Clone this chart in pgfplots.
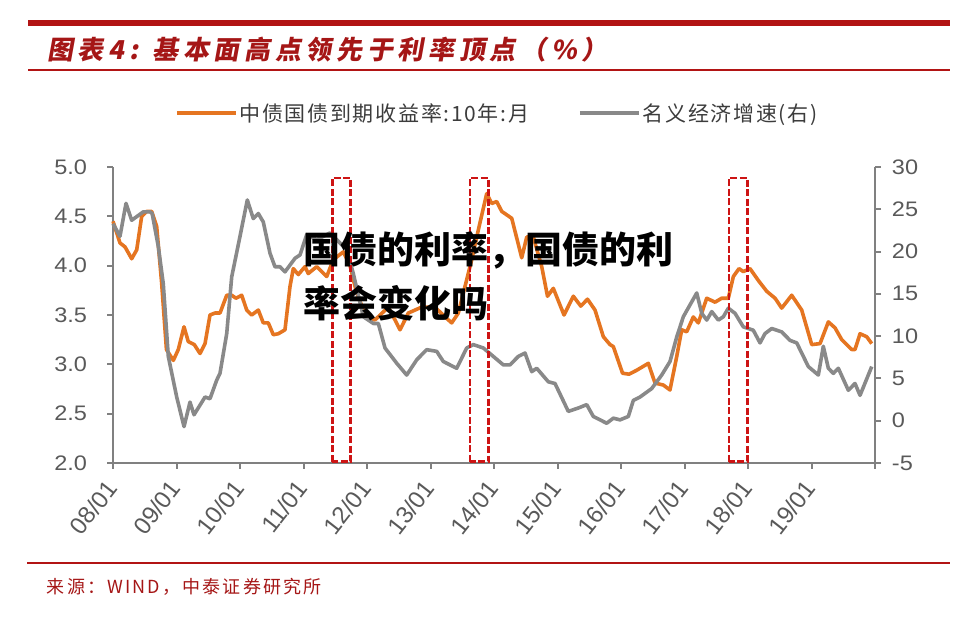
\documentclass[border=0pt]{standalone}
\usepackage{fontspec}
\setmainfont{Liberation Sans}
\newfontfamily\cjk{Noto Sans CJK SC}
\newfontfamily\cjktitle{Noto Sans CJK SC}[FakeSlant=0.18, LetterSpace=18]
\newfontfamily\cjksrc{Noto Sans CJK SC}[LetterSpace=12]
\newfontfamily\cjkleg{Noto Sans CJK SC}[LetterSpace=8]
\usepackage{pgfplots}
\pgfplotsset{compat=1.18}
\usepackage{pgfplotstable}

\definecolor{serorange}{RGB}{229,117,33}
\definecolor{sergray}{RGB}{137,137,137}
\definecolor{axisgray}{RGB}{128,128,128}
\definecolor{labelgray}{RGB}{89,89,89}
\definecolor{legendgray}{RGB}{60,60,60}
\definecolor{titlered}{RGB}{165,22,22}
\definecolor{rulered}{RGB}{178,20,20}
\definecolor{boxred}{RGB}{205,20,20}

\pgfplotstableread{
m v
0 4.45
1.32 4.23
2.27 4.19
3.53 4.07
4.48 4.16
5.42 4.50
6.37 4.55
7.31 4.55
8.25 4.40
9.2 3.82
10.1 3.15
11.4 3.04
12.34 3.15
13.42 3.38
14.23 3.23
15.36 3.20
16.44 3.11
17.39 3.21
18.33 3.50
19.28 3.52
20.22 3.52
21.49 3.70
22.43 3.70
23.24 3.67
24.32 3.70
25.27 3.55
26.21 3.50
27.46 3.55
28.40 3.42
29.35 3.42
30.29 3.30
31.24 3.31
32.50 3.35
33.45 3.79
34.07 3.97
35.02 3.91
36.28 3.99
36.9 3.92
38.50 3.99
40.39 3.89
41.63 4.06
43.52 4.14
44.79 4.00
45.92 3.75
47.30 3.55
47.94 3.48
49.51 3.45
52.03 3.58
53.29 3.45
54.24 3.35
55.81 3.52
58.34 3.58
60.85 3.58
62.74 3.48
64.01 3.42
65.26 3.52
66.52 3.79
67.79 4.06
69.03 4.36
70.62 4.73
71.57 4.63
72.51 4.65
73.46 4.55
75.35 4.48
77.24 4.08
78.18 4.29
79.43 4.29
81.02 3.99
82.11 3.69
83.21 3.77
85.23 3.50
86.99 3.69
88.40 3.59
89.67 3.66
91.09 3.55
92.66 3.28
93.92 3.20
94.55 3.18
96.29 2.91
97.51 2.90
98.97 2.94
101.16 3.01
102.43 2.81
104.00 2.79
105.26 2.74
106.53 3.08
107.47 3.35
108.42 3.33
109.66 3.48
110.61 3.42
112.20 3.67
113.77 3.63
115.03 3.67
116.28 3.67
117.23 3.89
118.30 3.97
119.11 3.94
120.38 3.97
121.95 3.85
123.54 3.74
125.11 3.67
126.37 3.57
128.26 3.70
130.15 3.55
132.04 3.20
133.61 3.21
135.18 3.43
136.44 3.37
137.71 3.25
139.60 3.15
140.22 3.15
141.17 3.31
142.43 3.28
143.38 3.21
}\yielddata

\pgfplotstableread{
m v
0 23.3
1.32 21.8
2.46 25.7
3.53 23.7
5.73 24.7
6.99 24.7
7.4 24.5
8.56 20.6
9.5 16.2
10.45 7.6
12.04 2.8
13.42 -0.7
14.55 2.2
15.31 0.7
17.39 2.8
18.33 2.6
19.6 4.8
20.22 5.6
21.49 10.3
22.43 17.0
24.00 21.8
25.38 26.1
26.51 23.9
27.46 24.5
28.40 23.5
29.67 19.8
30.61 18.2
31.56 18.2
32.50 17.6
34.39 19.2
35.34 19.6
36.61 22.0
38.50 21.4
41.01 22.2
42.28 21.4
44.17 20.2
45.41 17.4
47.30 12.3
49.19 11.5
50.14 11.5
51.40 8.6
53.61 6.8
55.50 5.4
57.39 7.2
59.28 8.4
61.17 8.2
62.42 7.0
64.95 6.2
66.84 8.6
68.09 9.0
69.98 8.6
71.87 7.6
73.76 6.6
75.02 6.6
76.59 7.6
77.86 8.0
79.13 5.8
80.07 6.2
82.27 4.6
83.53 4.4
86.04 1.1
87.93 1.5
89.52 1.9
90.77 0.5
93.30 -0.3
94.55 0.3
95.81 0.1
97.38 0.5
98.33 2.4
99.59 2.8
101.80 3.8
103.69 5.4
105.26 7.0
106.53 9.9
107.78 12.3
110.31 15.1
111.26 12.7
112.20 11.9
113.15 12.9
114.39 11.9
115.34 12.3
116.28 13.3
117.55 12.7
119.11 11.1
121.00 10.7
122.27 9.2
123.21 10.3
124.48 10.9
126.37 10.5
127.94 9.5
129.21 9.2
131.40 6.4
133.29 5.4
134.23 8.8
135.18 6.2
136.13 5.6
137.07 6.2
138.96 3.6
140.22 4.4
141.17 3.0
143.38 6.4
}\gdpdata

\begin{document}
\begin{tikzpicture}[x=1pt,y=1pt]
\path[use as bounding box] (0,0) rectangle (973,617);
% header rules and title
\fill[rulered] (28,591) rectangle (950,597);
\fill[rulered] (28,546) rectangle (950,548);
\node[anchor=west, inner sep=0pt, text=titlered, font=\cjktitle\bfseries\fontsize{26}{28}\selectfont] at (47,567) {图表4: 基本面高点领先于利率顶点（\%）};
% footer
\fill[rulered] (27,53.3) rectangle (950,55.3);
\node[anchor=west, inner sep=0pt, text=titlered, font=\cjksrc\fontsize{18}{20}\selectfont] at (46.7,30.3) {来源：WIND，中泰证券研究所};

\begin{axis}[
  at={(113pt,154pt)}, anchor=south west,
  scale only axis, width=762pt, height=296pt,
  xmin=0, xmax=144, ymin=2, ymax=5,
  axis x line*=bottom, axis y line*=left,
  axis line style={-, draw=axisgray, line width=2.2pt},
  tick style={draw=axisgray, line width=2pt},
  major tick length=6pt, tick align=outside,
  xtick={0,12,24,36,48,60,72,84,96,108,120,132,144},
  xticklabels={08/01,09/01,10/01,11/01,12/01,13/01,14/01,15/01,16/01,17/01,18/01,19/01,{}},
  ytick={2,2.5,3,3.5,4,4.5,5},
  yticklabels={2.0,2.5,3.0,3.5,4.0,4.5,5.0},
  yticklabel style={font=\fontsize{21}{23}\selectfont, text=labelgray, xshift=-16pt, xscale=1.12},
  xticklabel style={font=\fontsize{24}{26}\selectfont, text=labelgray, xshift=1pt, yshift=-12pt, rotate=52, anchor=east},
  clip=false,
  legend style={at={(0.0811,1.1824)}, anchor=west, draw=none, fill=none, inner sep=0pt,
    font=\cjkleg\fontsize{21}{24}\selectfont, text=legendgray,
    /tikz/every even column/.append style={column sep=47pt}},
  legend columns=2,
  legend image code/.code={\draw[#1, line width=3.6pt] (0pt,0pt) -- (59pt,0pt);},
]
\addplot[serorange, line width=3.6pt, line join=round] table[x=m, y=v] {\yielddata};
\addlegendentry{中债国债到期收益率:10年:月}
\addlegendimage{sergray}
\addlegendentry{名义经济增速(右)}
\end{axis}

\begin{axis}[
  at={(113pt,154pt)}, anchor=south west,
  scale only axis, width=762pt, height=296pt,
  xmin=0, xmax=144, ymin=-5, ymax=30,
  axis x line=none, axis y line*=right,
  axis line style={-, draw=axisgray, line width=2.2pt},
  tick style={draw=axisgray, line width=2pt},
  major tick length=6pt, tick align=outside,
  ytick={-5,0,5,10,15,20,25,30},
  yticklabels={-5,0,5,10,15,20,25,30},
  yticklabel style={font=\fontsize{21}{23}\selectfont, text=labelgray, anchor=west, xshift=7pt, xscale=1.12},
  clip=false,
]
\addplot[sergray, line width=3.6pt, line join=round] table[x=m, y=v] {\gdpdata};
\addplot[boxred, line width=2.8pt, dash pattern=on 7pt off 2.5pt, forget plot] coordinates {(41.44,-4.85) (41.44,28.7) (44.92,28.7) (44.92,-4.85) (41.44,-4.85)};
\addplot[boxred, line width=2.8pt, dash pattern=on 7pt off 2.5pt, forget plot] coordinates {(67.47,-4.85) (67.47,28.7) (70.92,28.7) (70.92,-4.85) (67.47,-4.85)};
\addplot[boxred, line width=2.8pt, dash pattern=on 7pt off 2.5pt, forget plot] coordinates {(116.41,-4.85) (116.41,28.7) (119.87,28.7) (119.87,-4.85) (116.41,-4.85)};
\end{axis}

% overlay text
\node[anchor=west, inner sep=0pt, font=\cjk\bfseries\fontsize{37}{40}\selectfont] at (303,367) {国债的利率，国债的利};
\node[anchor=west, inner sep=0pt, font=\cjk\bfseries\fontsize{37}{40}\selectfont] at (303,313.5) {率会变化吗};
\end{tikzpicture}
\end{document}
